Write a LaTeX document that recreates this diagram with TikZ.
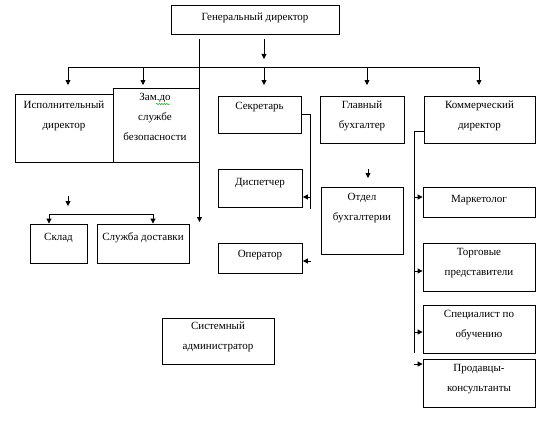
\documentclass[tikz,border=0pt]{standalone}
\usepackage{fontspec}
\setmainfont{Liberation Serif}
\usetikzlibrary{arrows.meta,decorations.pathmorphing}
\newcommand\bx[5]{\node[box, minimum width={#4-#2}, minimum height={#5-#3}] (#1) at ({(#2+#4)/2},{(#3+#5)/2}) {};}
\begin{document}
\begin{tikzpicture}[x=1pt,y=-1pt,
  box/.style={draw, line width=0.8pt, inner sep=0pt},
  txt/.style={font=\fontsize{11}{20}\selectfont, align=center, anchor=north, inner sep=0pt, execute at begin node={\rule{0pt}{8.5pt}}},
  ln/.style={line width=0.8pt},
  arr/.style={line width=0.8pt, -{Triangle[length=5pt,width=5pt]}},
  darr/.style={line width=0.8pt, {Triangle[length=5pt,width=5pt]}-{Triangle[length=5pt,width=5pt]}},
]
\useasboundingbox (0,0) rectangle (548,420);

\bx{gen}{171}{5}{339}{34}
\node[txt] (gen-t) at (255,12) {Генеральный директор};
\bx{isp}{15}{94}{113}{162}
\node[txt] (isp-t) at (64,101) {Исполнительный\\директор};
\bx{zam}{113}{88}{199}{162}
\node[txt] (zam-t) at (155,93) {Зам.до\\службе\\безопасности};
\bx{sek}{218}{96}{301}{133}
\node[txt] (sek-t) at (259.5,101) {Секретарь};
\bx{glav}{320}{96}{404}{143}
\node[txt] (glav-t) at (362,101) {Главный\\бухгалтер};
\bx{kom}{424}{96}{535}{143}
\node[txt] (kom-t) at (479.5,101) {Коммерческий\\директор};
\bx{disp}{218}{169}{302.5}{207}
\node[txt] (disp-t) at (260,177) {Диспетчер};
\bx{oper}{218}{243}{302.5}{273}
\node[txt] (oper-t) at (260,249) {Оператор};
\bx{sklad}{30}{224}{87}{263}
\node[txt] (sklad-t) at (58.5,232) {Склад};
\bx{sluzh}{97}{224}{189}{263}
\node[txt] (sluzh-t) at (143,232) {Служба доставки};
\bx{otdel}{321}{187}{403}{254}
\node[txt] (otdel-t) at (362,193) {Отдел\\бухгалтерии};
\bx{mark}{423}{187}{535}{217}
\node[txt] (mark-t) at (479,194) {Маркетолог};
\bx{torg}{423}{243}{535}{291}
\node[txt] (torg-t) at (479,248) {Торговые\\представители};
\bx{spec}{423}{305}{535}{353}
\node[txt] (spec-t) at (479,310) {Специалист по\\обучению};
\bx{prod}{423}{359}{535}{407}
\node[txt] (prod-t) at (479,364) {Продавцы-\\консультанты};
\bx{sys}{162}{318}{274}{364}
\node[txt] (sys-t) at (218,322) {Системный\\администратор};

% spell-check squiggle
\draw[green!60!black, line width=0.5pt, decorate, decoration={snake, amplitude=0.6pt, segment length=2.5pt}] (156,104) -- (170,104);

% top connectors
\coordinate (v1) at (199.5,39);
\coordinate (v2) at (199.5,222);
\draw[arr] (v1) -- (v2);
\coordinate (a1) at (264,39);
\coordinate (a2) at (264,59);
\draw[arr] (a1) -- (a2);
\coordinate (hl) at (68,67);
\coordinate (hr) at (479,67);
\draw[ln] (hl) -- (hr);
\foreach \x in {68,143,264,367,479}
  \draw[arr] (\x,67) -- (\x,85);

% secretary
\coordinate (sv) at (310.5,114.5);
\coordinate (sbus) at (310.5,209);
\draw[ln] (sek.east) -- (sv) -- (sbus);
\coordinate (sd) at (310.5,197);
\draw[arr] (sd) -- (sd -| disp.east);
\coordinate (so) at (311,261);
\draw[arr] (so) -- (so -| oper.east);

% executive director
\coordinate (e1) at (68,196);
\coordinate (e2) at (68,206);
\draw[arr] (e1) -- (e2);
\coordinate (bl) at (49,214);
\coordinate (br) at (153,214);
\draw[darr] (bl |- sklad.north) -- (bl) -- (br) -- (br |- sluzh.north);

% chief accountant
\coordinate (g1) at (368,169);
\coordinate (g2) at (368,178);
\draw[arr] (g1) -- (g2);

% commercial director
\coordinate (kt) at (414,131);
\coordinate (kbus) at (414,353);
\draw[ln] (kt -| kom.west) -- (kt) -- (kbus);
\foreach \y/\n in {197/mark,271/torg,332/spec}
  \draw[arr] (414,\y) -- (\n.west |- 0,\y);
\coordinate (p1) at (414,364);
\draw[arr] (p1) -- (p1 -| prod.west);
\end{tikzpicture}
\end{document}
